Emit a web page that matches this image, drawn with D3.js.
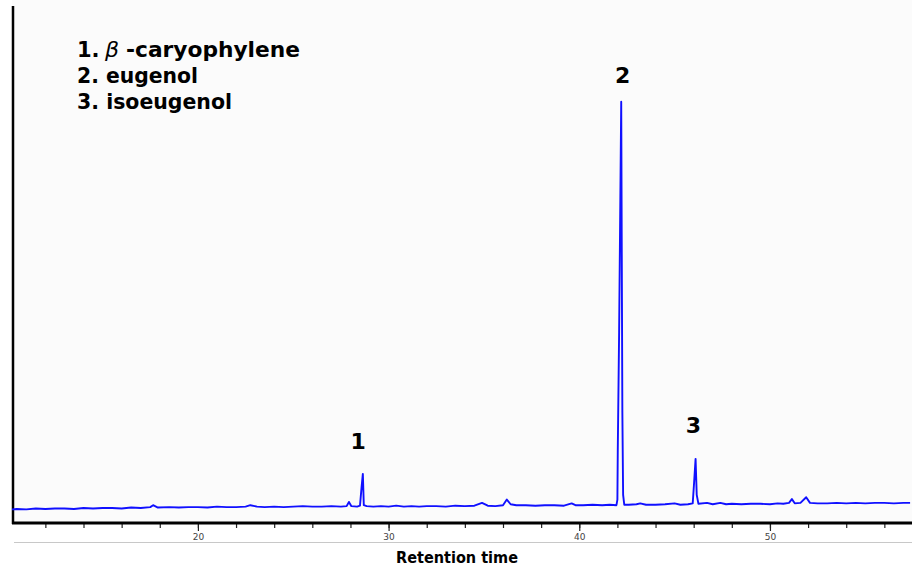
<!DOCTYPE html>
<html>
<head>
<meta charset="utf-8">
<script src="https://cdn.jsdelivr.net/npm/d3@7"></script>
<style>
  body { margin: 0; background: #fff; }
  svg { display: block; }
</style>
</head>
<body>
<svg id="chart" width="912" height="569"></svg>
<script>
// chromatogram trace (time in min, response in arbitrary units)
var retentionTime = [
  10.25, 10.5, 11.0, 11.5, 12.0, 12.5, 13.0, 13.5, 14.0, 14.5, 15.0, 15.5, 16.0, 16.5, 17.0, 17.5,
  17.65, 17.9, 18.5, 19.0, 19.5, 20.0, 20.5, 21.0, 21.5, 22.0, 22.5, 22.75, 23.1, 23.5, 24.0, 24.5,
  25.0, 25.5, 26.0, 26.5, 27.0, 27.5, 27.8, 27.92, 28.05, 28.35, 28.5, 28.58, 28.65, 28.7, 28.85,
  29.2, 29.6, 30.0, 30.4, 30.8, 31.2, 31.6, 32.0, 32.5, 33.0, 33.5, 34.0, 34.5, 34.9, 35.2, 35.6,
  36.0, 36.2, 36.4, 36.7, 37.2, 37.7, 38.2, 38.7, 39.2, 39.6, 39.8, 40.2, 40.7, 41.2, 41.6, 41.95,
  42.0, 42.02, 42.09, 42.2, 42.26, 42.3, 42.36, 42.6, 43.0, 43.2, 43.5, 44.0, 44.5, 45.0, 45.3,
  45.7, 45.95, 46.02, 46.1, 46.16, 46.25, 46.7, 47.0, 47.4, 47.7, 48.0, 48.5, 49.0, 49.5, 50.0,
  50.4, 50.7, 51.0, 51.15, 51.3, 51.6, 51.9, 52.1, 52.5, 53.0, 53.5, 54.0, 54.5, 55.0, 55.5,
  56.0, 56.5, 57.0, 57.35
];
var response = [
  2.9, 3.0, 2.9, 3.1, 3.0, 3.1, 3.1, 3.0, 3.2, 3.1, 3.2, 3.2, 3.1, 3.3, 3.2, 3.4,
  3.8, 3.3, 3.4, 3.3, 3.4, 3.4, 3.3, 3.5, 3.4, 3.4, 3.5, 3.8, 3.5, 3.4, 3.5, 3.4,
  3.5, 3.6, 3.5, 3.5, 3.6, 3.5, 3.6, 4.5, 3.6, 3.5, 3.7, 7.5, 10.5, 3.8, 3.6,
  3.5, 3.6, 3.5, 3.7, 3.5, 3.6, 3.5, 3.6, 3.6, 3.5, 3.7, 3.6, 3.7, 4.3, 3.7, 3.6,
  3.8, 5.0, 4.0, 3.8, 3.8, 3.7, 3.8, 3.8, 3.7, 4.2, 3.8, 3.8, 3.9, 3.8, 3.9, 3.8,
  5.0, 15.6, 40.8, 90.0, 23.7, 6.0, 3.9, 3.9, 4.0, 4.2, 3.9, 3.9, 4.0, 4.2, 3.9,
  4.0, 4.2, 8.5, 13.7, 6.0, 4.1, 4.3, 4.0, 4.3, 4.0, 4.1, 4.0, 4.1, 4.1, 4.0,
  4.2, 4.1, 4.3, 5.1, 4.2, 4.3, 5.5, 4.3, 4.2, 4.2, 4.3, 4.2, 4.3, 4.2, 4.3,
  4.3, 4.2, 4.3, 4.3
];

var majorTicks = [20, 30, 40, 50];
var minorTicks = [12, 14, 16, 18, 20, 22, 24, 26, 28, 30, 32, 34, 36, 38, 40, 42, 44, 46, 48, 50, 52, 54, 56];

var peakNames = ["1", "2", "3"];
var peakLabelTime = [28.4, 42.27, 45.98];
var peakLabelLevel = [15.8, 94.0, 19.2];

var legendNums = ["1.", "2.", "3."];
var legendNames = ["-caryophylene", "eugenol", "isoeugenol"];

var xLabel = "Retention time";

var svg = d3.select("#chart");
// note: "top" is taken by window.top, so plot edges get their own names
var plotLeft = 12, plotRight = 912, plotTop = 6, plotBottom = 523;

var x = d3.scaleLinear().domain([10.25, 57.45]).range([plotLeft, plotRight]);
var y = d3.scaleLinear().domain([0, 110]).range([plotBottom, 8]);

// plot background
svg.append("rect")
  .attr("x", plotLeft).attr("y", 0)
  .attr("width", plotRight - plotLeft).attr("height", plotBottom)
  .attr("fill", "#fbfbfb");

// minor ticks
var minorAxis = d3.axisBottom(x).tickValues(minorTicks).tickSize(5).tickFormat("");
var gMinor = svg.append("g").attr("transform", "translate(0," + plotBottom + ")").call(minorAxis);
gMinor.select(".domain").remove();
gMinor.selectAll("line").attr("stroke", "#222").attr("stroke-width", 1.2);

// major ticks + labels
var majorAxis = d3.axisBottom(x).tickValues(majorTicks).tickSize(8).tickPadding(3).tickFormat(d3.format("d"));
var gMajor = svg.append("g").attr("transform", "translate(0," + plotBottom + ")").call(majorAxis);
gMajor.select(".domain").remove();
gMajor.selectAll("line").attr("stroke", "#222").attr("stroke-width", 1.2);
gMajor.selectAll("text")
  .attr("fill", "#444")
  .style("font-family", "DejaVu Sans, sans-serif")
  .style("font-size", "9px");

// frame
svg.append("line")
  .attr("x1", plotLeft + 1).attr("x2", plotLeft + 1)
  .attr("y1", plotTop).attr("y2", plotBottom + 1)
  .attr("stroke", "#000").attr("stroke-width", 2.5);
svg.append("line")
  .attr("x1", plotLeft).attr("x2", plotRight)
  .attr("y1", plotBottom).attr("y2", plotBottom)
  .attr("stroke", "#000").attr("stroke-width", 3);

// thin separator under tick labels
svg.append("line")
  .attr("x1", plotLeft + 2).attr("x2", plotRight)
  .attr("y1", 542.5).attr("y2", 542.5)
  .attr("stroke", "#c8c8c8").attr("stroke-width", 1);

svg.append("text")
  .attr("x", 457).attr("y", 563)
  .attr("text-anchor", "middle")
  .attr("textLength", 122).attr("lengthAdjust", "spacingAndGlyphs")
  .style("font-family", "DejaVu Sans Condensed, DejaVu Sans, sans-serif")
  .style("font-weight", "bold")
  .style("font-size", "15px")
  .text(xLabel);

// the trace
var trace = d3.zip(retentionTime, response);
var line = d3.line()
  .x(function(d){ return x(d[0]); })
  .y(function(d){ return y(d[1]); });

svg.append("path")
  .datum(trace)
  .attr("d", line)
  .attr("fill", "none")
  .attr("stroke", "#1010ff")
  .attr("stroke-width", 1.9)
  .attr("stroke-linejoin", "round");

// peak numbers
svg.selectAll(".peak")
  .data(peakNames)
  .enter().append("text")
  .attr("class", "peak")
  .attr("x", function(d, i){ return x(peakLabelTime[i]); })
  .attr("y", function(d, i){ return y(peakLabelLevel[i]); })
  .attr("text-anchor", "middle")
  .style("font-family", "DejaVu Sans, sans-serif")
  .style("font-weight", "bold")
  .style("font-size", "22px")
  .text(function(d){ return d; });

// legend
var legFont = "DejaVu Sans, sans-serif";
var legY = [57, 83, 109];
var legWidths = [0, 121, 155];

legendNums.forEach(function(num, i){
  if (i === 0) {
    svg.append("text")
      .attr("x", 77).attr("y", legY[i])
      .style("font-family", legFont).style("font-weight", "bold").style("font-size", "21px")
      .text(num);
    svg.append("text")
      .attr("x", 105).attr("y", legY[i])
      .style("font-family", legFont).style("font-style", "italic").style("font-size", "22px")
      .text("\u03b2");
    svg.append("text")
      .attr("x", 126).attr("y", legY[i])
      .attr("textLength", 174).attr("lengthAdjust", "spacingAndGlyphs")
      .style("font-family", legFont).style("font-weight", "bold").style("font-size", "21px")
      .text(legendNames[i]);
  } else {
    svg.append("text")
      .attr("x", 77).attr("y", legY[i])
      .attr("textLength", legWidths[i]).attr("lengthAdjust", "spacingAndGlyphs")
      .style("font-family", legFont).style("font-weight", "bold").style("font-size", "21px")
      .text(num + " " + legendNames[i]);
  }
});
</script>
</body>
</html>
